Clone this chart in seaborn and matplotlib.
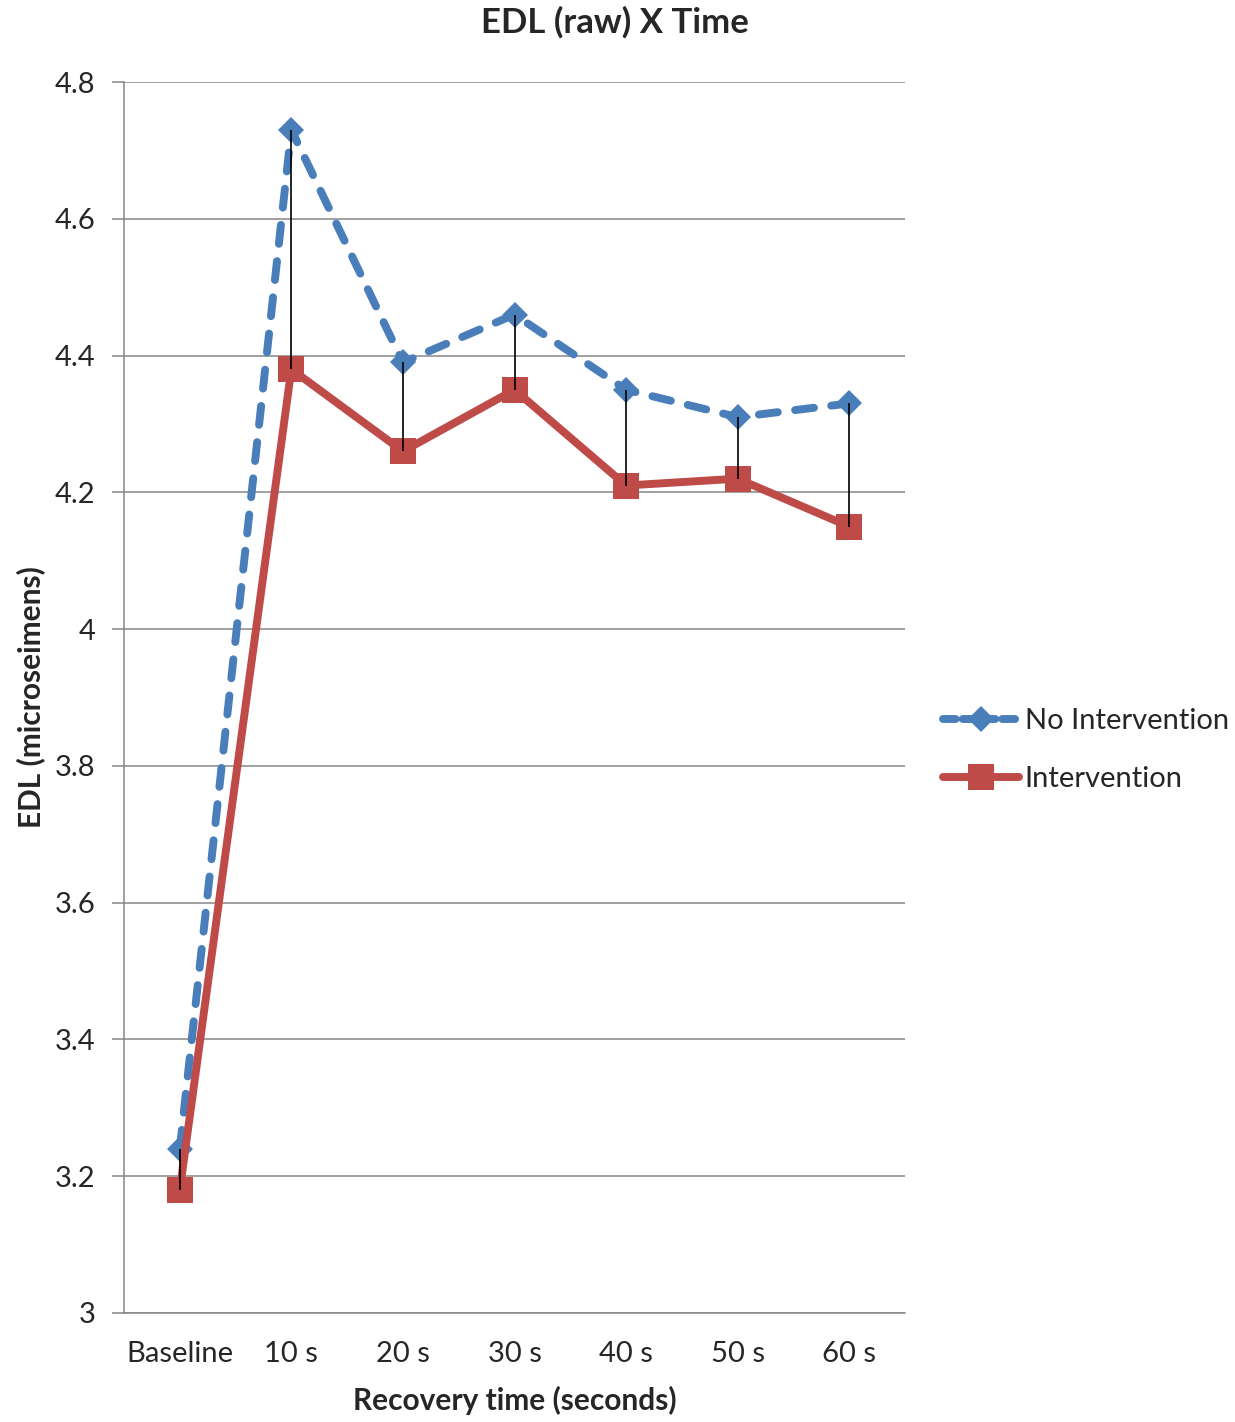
import numpy as np
import pandas as pd
import matplotlib
matplotlib.use("Agg")
import matplotlib.pyplot as plt
import seaborn as sns
from matplotlib.lines import Line2D

# data
times = ["Baseline", "10 s", "20 s", "30 s", "40 s", "50 s", "60 s"]
no_intervention = [3.24, 4.73, 4.39, 4.46, 4.35, 4.31, 4.33]
intervention = [3.18, 4.38, 4.26, 4.35, 4.21, 4.22, 4.15]

blue = "#4A7EBB"
red = "#BE4B48"
grid_col = "#868686"

sns.set_theme(style="white")
plt.rcParams["font.family"] = ["Lato", "DejaVu Sans"]

df = pd.DataFrame({"time": times, "No Intervention": no_intervention, "Intervention": intervention})
df["pos"] = np.arange(len(times))

fig = plt.figure(figsize=(12.35, 14.22), dpi=100)
ax = fig.add_axes([0.1004, 0.0767, 0.6324, 0.8656])

lw = 5.7
dash = (2.4, 2.2)

# blue dashed series with diamonds
sns.lineplot(data=df, x="pos", y="No Intervention", ax=ax, color=blue, lw=lw,
             marker="D", markersize=13, markeredgewidth=0, zorder=3)
ax.lines[-1].set_dashes(dash)
ax.lines[-1].set_dash_capstyle("round")

# red solid series with squares
sns.lineplot(data=df, x="pos", y="Intervention", ax=ax, color=red, lw=lw,
             marker="s", markersize=18.5, markeredgewidth=0, zorder=4)
ax.lines[-1].set_solid_capstyle("round")

# high-low lines
ax.vlines(df["pos"], df["Intervention"], df["No Intervention"], color="black", lw=1.2, zorder=5)

ax.set_xlim(-0.5, len(times) - 0.5)
ax.set_ylim(3, 4.8)
ax.set_yticks(np.arange(3, 4.81, 0.2))
ax.set_yticklabels(["3", "3.2", "3.4", "3.6", "3.8", "4", "4.2", "4.4", "4.6", "4.8"])
ax.set_xticks(df["pos"])
ax.set_xticklabels(times)

ax.yaxis.grid(True, color=grid_col, lw=1.1)
ax.set_axisbelow(True)
for s in ["top", "right"]:
    ax.spines[s].set_visible(False)
for s in ["left", "bottom"]:
    ax.spines[s].set_color(grid_col)
    ax.spines[s].set_linewidth(1.1)
ax.tick_params(axis="y", length=8.5, width=1.1, color=grid_col, left=True, labelsize=21, pad=12)
ax.tick_params(axis="x", length=0, labelsize=21, pad=20)

ax.set_xlabel("Recovery time (seconds)", fontsize=21.5, fontweight="bold", labelpad=14)
ax.set_ylabel("EDL (microseimens)", fontsize=21.5, fontweight="bold", labelpad=7)
fig.text(0.498, 0.984, "EDL (raw) X Time", ha="center", va="center", fontsize=25, fontweight="bold")

handles = [
    Line2D([], [], color=blue, lw=lw, marker="D", markersize=13, markeredgewidth=0,
           dashes=(1.6, 0.9), dash_capstyle="round"),
    Line2D([], [], color=red, lw=lw, marker="s", markersize=18.5, markeredgewidth=0,
           solid_capstyle="round"),
]
ax.legend(handles, ["No Intervention", "Intervention"], loc="center left",
          bbox_to_anchor=(1.015, 0.457), frameon=False, fontsize=21, handlelength=2.6,
          handletextpad=0.2, labelspacing=1.1)

fig.savefig("out.png", dpi=100)
